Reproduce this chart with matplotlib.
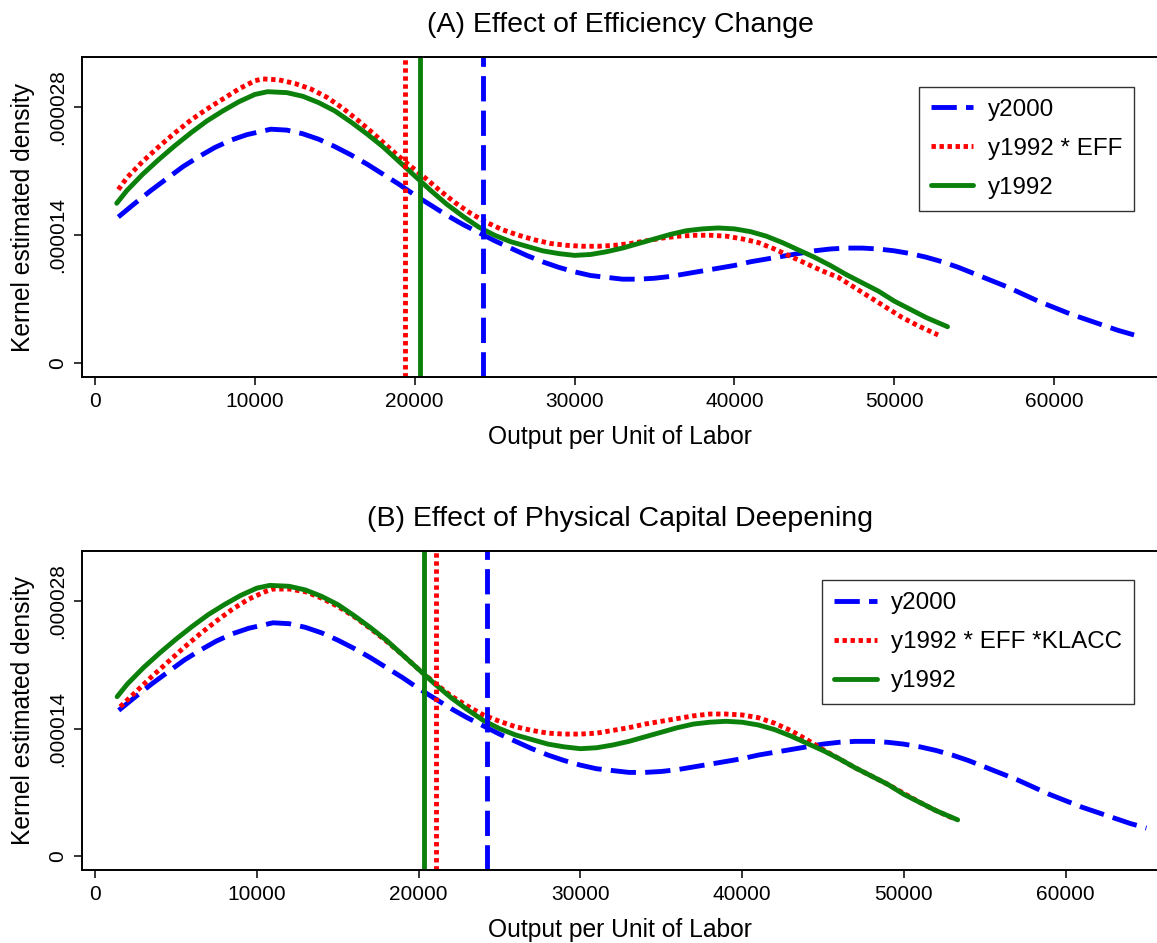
import numpy as np
import matplotlib.pyplot as plt
from matplotlib.ticker import FixedLocator, FixedFormatter

plt.rcParams["font.family"] = ["Liberation Sans", "DejaVu Sans"]

# kernel densities (x = output per worker, y in millionths)
y2000_x = [1460, 2500, 3500, 4500, 5500, 6500, 7500, 8500, 9500, 10500, 11000, 12000,
           13000, 14000, 15000, 16000, 17000, 18000, 19000, 20000, 21000, 22000, 23000,
           24000, 25000, 26000, 27000, 28000, 29000, 30000, 31000, 32000, 33000, 34000,
           35000, 36000, 37000, 38000, 39000, 40000, 41000, 42000, 43000, 44000, 45000,
           46000, 47000, 48000, 49000, 50000, 51000, 52000, 53000, 54000, 55000, 56000,
           57000, 58000, 59000, 60000, 61000, 62000, 63000, 64000, 65000]
y2000_y = [16.0, 17.5, 18.9, 20.2, 21.5, 22.6, 23.6, 24.4, 25.0, 25.4, 25.6, 25.5,
           25.1, 24.5, 23.7, 22.8, 21.8, 20.7, 19.6, 18.4, 17.3, 16.2, 15.2,
           14.3, 13.4, 12.6, 11.8, 11.1, 10.5, 10.0, 9.6, 9.4, 9.2, 9.2,
           9.3, 9.5, 9.8, 10.1, 10.4, 10.7, 11.1, 11.4, 11.7, 12.0, 12.3,
           12.5, 12.6, 12.6, 12.5, 12.3, 12.0, 11.6, 11.1, 10.5, 9.8, 9.1,
           8.4, 7.6, 6.8, 6.1, 5.4, 4.8, 4.2, 3.6, 3.1]

y1992_x = [1360, 2000, 3000, 4000, 5000, 6000, 7000, 8000, 9000, 10000, 10800, 12000,
           13000, 14000, 15000, 16000, 17000, 18000, 19000, 20000, 21000, 22000, 23000,
           24000, 25000, 26000, 27000, 28000, 29000, 30000, 31000, 32000, 33000, 34000,
           35000, 36000, 37000, 38000, 39000, 40000, 41000, 42000, 43000, 44000, 45000,
           46000, 47000, 48000, 49000, 50000, 51000, 52000, 53330]
y1992_y = [17.5, 18.9, 20.7, 22.3, 23.8, 25.2, 26.5, 27.6, 28.6, 29.4, 29.7, 29.6,
           29.2, 28.5, 27.6, 26.4, 25.1, 23.7, 22.1, 20.5, 18.9, 17.4, 16.1,
           14.9, 14.0, 13.3, 12.8, 12.3, 12.0, 11.8, 11.9, 12.2, 12.6, 13.1,
           13.6, 14.1, 14.5, 14.7, 14.8, 14.7, 14.4, 13.9, 13.2, 12.4, 11.6,
           10.7, 9.7, 8.8, 7.9, 6.8, 5.9, 5.0, 4.0]

eff_x = [1460, 2000, 3000, 4000, 5000, 6000, 7000, 8000, 9000, 10000, 10500, 11500,
         12500, 13500, 14500, 15500, 16500, 17500, 18500, 19500, 20500, 21500, 22500,
         23500, 24500, 25500, 26500, 27500, 28500, 29500, 30500, 31500, 32500, 33500,
         34500, 35500, 36500, 37500, 38500, 39500, 40500, 41500, 42500, 43500, 44500,
         45500, 46500, 47500, 48500, 49500, 50500, 51500, 52740]
eff_y = [19.0, 20.3, 22.1, 23.7, 25.2, 26.6, 27.8, 28.9, 30.0, 30.9, 31.1, 31.0,
         30.6, 30.0, 29.1, 27.9, 26.5, 25.0, 23.4, 21.9, 20.5, 19.0, 17.6,
         16.4, 15.4, 14.6, 14.0, 13.5, 13.1, 12.9, 12.8, 12.8, 12.9, 13.1,
         13.4, 13.7, 13.9, 14.0, 14.0, 13.9, 13.6, 13.2, 12.5, 11.7, 10.9,
         10.1, 9.4, 8.3, 7.2, 6.1, 5.0, 4.1, 3.1]

klacc_x = [1550, 2500, 3500, 4500, 5500, 6500, 7500, 8500, 9500, 10500, 11000, 12000,
           13000, 14000, 15000, 16000, 17000, 18000, 19000, 20000, 21000, 22000, 23000,
           24000, 25000, 26000, 27000, 28000, 29000, 30000, 31000, 32000, 33000, 34000,
           35000, 36000, 37000, 38000, 39000, 40000, 41000, 42000, 43000, 44000, 45000,
           46000, 47000, 48000, 49000, 50000, 51000, 52000, 53010]
klacc_y = [16.4, 18.0, 19.7, 21.3, 22.9, 24.4, 25.8, 27.1, 28.2, 29.0, 29.3, 29.3,
           29.0, 28.3, 27.4, 26.3, 25.0, 23.6, 22.1, 20.5, 19.0, 17.6, 16.5,
           15.5, 14.8, 14.2, 13.8, 13.5, 13.4, 13.4, 13.5, 13.8, 14.1, 14.5,
           14.8, 15.1, 15.4, 15.6, 15.6, 15.5, 15.2, 14.6, 13.8, 12.8, 11.7,
           10.7, 9.7, 8.8, 7.9, 6.9, 5.9, 5.0, 4.2]

# sample means drawn as vertical lines
mean_y2000 = 24250
mean_y1992 = 20350
mean_eff = 19410
mean_klacc = 21100

titles = ["(A) Effect of Efficiency Change", "(B) Effect of Physical Capital Deepening"]
labels_a = ["y2000", "y1992 * EFF", "y1992"]
labels_b = ["y2000", "y1992 * EFF *KLACC", "y1992"]
xticks = [0, 10000, 20000, 30000, 40000, 50000, 60000]
yticks = [0, 0.000014, 0.000028]
ytick_labels = ["0", ".000014", ".000028"]

BLUE, RED, GREEN = "#0000ff", "#ff0000", "#0b800b"
LW = 3.5
blue_style = dict(color=BLUE, lw=LW, dashes=(5.2, 1.9), dash_capstyle="butt")
red_style = dict(color=RED, lw=LW, dashes=(0.9, 0.75), dash_capstyle="butt")
green_style = dict(color=GREEN, lw=LW, solid_capstyle="round")

fig = plt.figure(figsize=(11.57, 9.43), dpi=100)
ax_a = fig.add_axes([0.0709, 0.6002, 0.93, 0.3394])
ax_b = fig.add_axes([0.0709, 0.0774, 0.93, 0.3386])

panels = [
    (ax_a, eff_x, eff_y, mean_eff, labels_a, titles[0], 66500),
    (ax_b, klacc_x, klacc_y, mean_klacc, labels_b, titles[1], 65720),
]

for ax, cx, cy, cmean, labs, title, xmax in panels:
    h1, = ax.plot(y2000_x, np.array(y2000_y) * 1e-6, **blue_style)
    h2, = ax.plot(cx, np.array(cy) * 1e-6, **red_style)
    h3, = ax.plot(y1992_x, np.array(y1992_y) * 1e-6, **green_style)
    ax.axvline(mean_y2000, **blue_style)
    ax.axvline(cmean, **red_style)
    ax.axvline(mean_y1992, color=GREEN, lw=LW)

    ax.set_xlim(-810, xmax)
    ax.set_ylim(-1.5e-6, 33.5e-6)
    ax.xaxis.set_major_locator(FixedLocator(xticks))
    ax.set_xticklabels([str(t) for t in xticks])
    ax.yaxis.set_major_locator(FixedLocator(yticks))
    ax.yaxis.set_major_formatter(FixedFormatter(ytick_labels))
    ax.tick_params(axis="both", direction="out", length=6, width=1.1, labelsize=15, pad=5)
    for lab in ax.get_yticklabels():
        lab.set_rotation(90)
        lab.set_va("center")
    ax.spines["right"].set_visible(False)
    for s in ["left", "top", "bottom"]:
        ax.spines[s].set_linewidth(1.4)

    ax.set_title(title, fontsize=20.5, pad=18)
    ax.set_xlabel("Output per Unit of Labor", fontsize=17.7, labelpad=10)
    ax.set_ylabel("Kernel estimated density", fontsize=17.7, labelpad=9)

    leg = ax.legend([h1, h2, h3], labs, loc="upper right", bbox_to_anchor=(0.978, 0.907),
                    borderaxespad=0, fontsize=17.4, frameon=True, fancybox=False,
                    handlelength=1.75, labelspacing=0.7, borderpad=0.5,
                    handletextpad=0.6)
    leg.get_frame().set_edgecolor("black")
    leg.get_frame().set_linewidth(1.0)

fig.savefig("out.png", dpi=100)
